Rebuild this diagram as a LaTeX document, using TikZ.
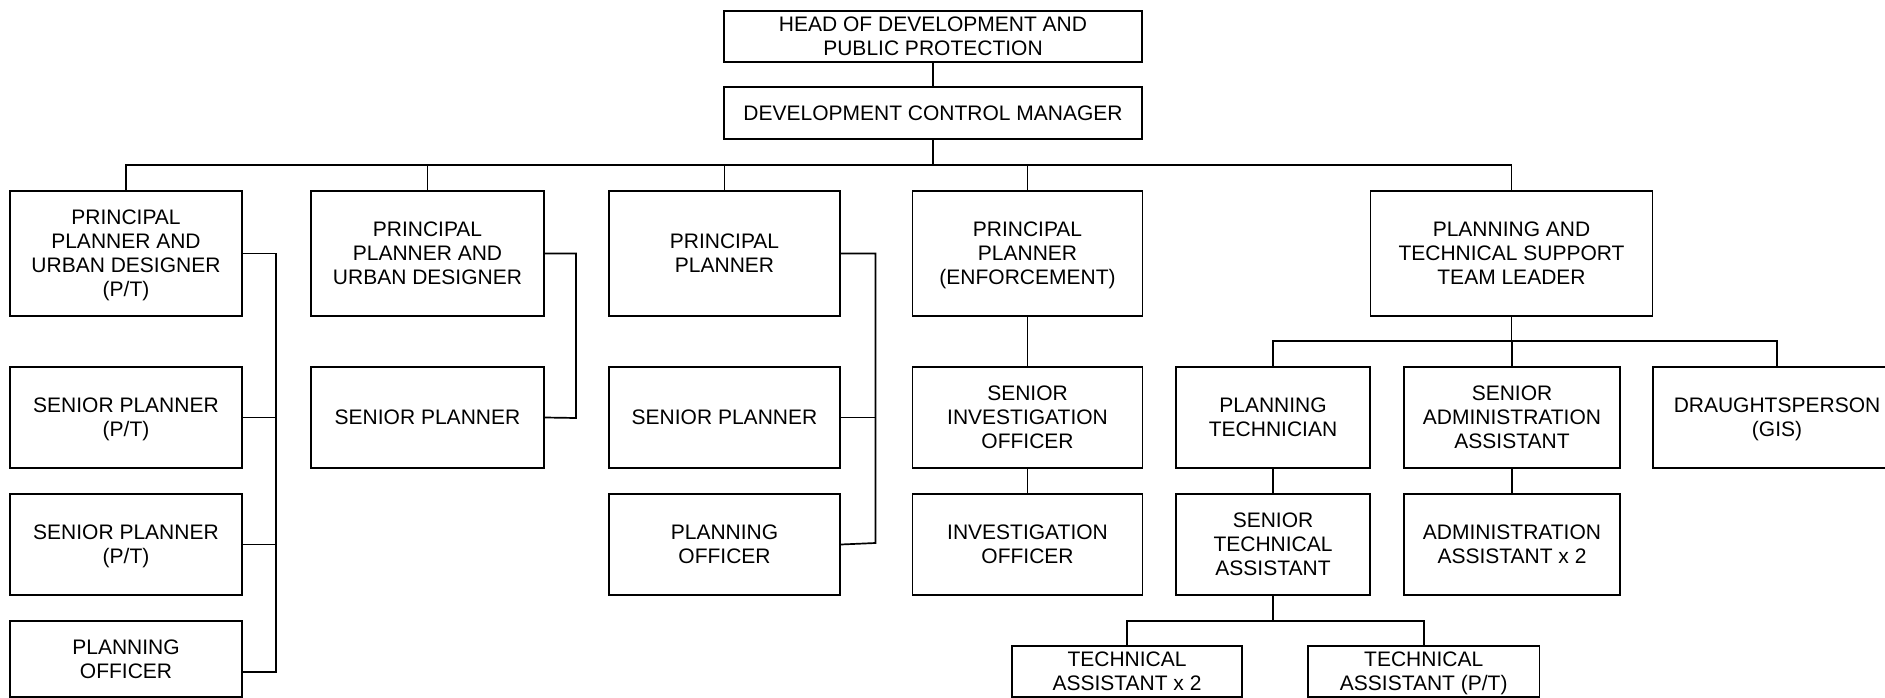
\documentclass[tikz,border=0pt]{standalone}
\usepackage{fontspec}
\setmainfont{Liberation Sans}
\usetikzlibrary{calc}
\tikzset{
  box/.style={draw, line width=1.9pt, rectangle, align=center, inner sep=0pt,
    text depth=0pt, font=\fontsize{21}{24}\selectfont},
  link/.style={line width=1.7pt}
}
\begin{document}
\begin{tikzpicture}[x=1pt,y=-1pt]
\useasboundingbox (0,0) rectangle (1885,698);
\clip (0,0) rectangle (1885,698);
% top
\node[box, minimum width=418pt, minimum height=51pt] (head) at (933,36.5) {HEAD OF DEVELOPMENT AND\\PUBLIC PROTECTION};
\node[box, minimum width=418pt, minimum height=52pt] (dcm) at (933,113) {DEVELOPMENT CONTROL MANAGER};
% row 1
\node[box, minimum width=232pt, minimum height=125pt] (ppa) at (126,253.5) {PRINCIPAL\\PLANNER AND\\URBAN DESIGNER\\(P/T)};
\node[box, minimum width=233pt, minimum height=125pt] (ppb) at (427.5,253.5) {PRINCIPAL\\PLANNER AND\\URBAN DESIGNER};
\node[box, minimum width=231pt, minimum height=125pt] (ppc) at (724.5,253.5) {PRINCIPAL\\PLANNER};
\node[box, minimum width=230pt, minimum height=125pt] (ppd) at (1027.5,253.5) {PRINCIPAL\\PLANNER\\(ENFORCEMENT)};
\node[box, minimum width=282pt, minimum height=125pt] (pts) at (1511.5,253.5) {PLANNING AND\\TECHNICAL SUPPORT\\TEAM LEADER};
% row 2
\node[box, minimum width=232pt, minimum height=101pt] (spa1) at (126,417.5) {SENIOR PLANNER\\(P/T)};
\node[box, minimum width=233pt, minimum height=101pt] (spb) at (427.5,417.5) {SENIOR PLANNER};
\node[box, minimum width=231pt, minimum height=101pt] (spc) at (724.5,417.5) {SENIOR PLANNER};
\node[box, minimum width=230pt, minimum height=101pt] (sio) at (1027.5,417.5) {SENIOR\\INVESTIGATION\\OFFICER};
\node[box, minimum width=194.5pt, minimum height=101pt] (ptech) at (1273,417.5) {PLANNING\\TECHNICIAN};
\node[box, minimum width=216.5pt, minimum height=101pt] (saa) at (1512,417.5) {SENIOR\\ADMINISTRATION\\ASSISTANT};
\node[box, minimum width=248pt, minimum height=101pt] (dr) at (1777,417.5) {DRAUGHTSPERSON\\(GIS)};
% row 3
\node[box, minimum width=232pt, minimum height=101pt] (spa2) at (126,544.5) {SENIOR PLANNER\\(P/T)};
\node[box, minimum width=231pt, minimum height=101pt] (poc) at (724.5,544.5) {PLANNING\\OFFICER};
\node[box, minimum width=230pt, minimum height=101pt] (io) at (1027.5,544.5) {INVESTIGATION\\OFFICER};
\node[box, minimum width=194.5pt, minimum height=101pt] (sta) at (1273,544.5) {SENIOR\\TECHNICAL\\ASSISTANT};
\node[box, minimum width=216.5pt, minimum height=101pt] (aa) at (1512,544.5) {ADMINISTRATION\\ASSISTANT x 2};
% row 4
\node[box, minimum width=232pt, minimum height=76pt] (poa) at (126,659) {PLANNING\\OFFICER};
\node[box, minimum width=230pt, minimum height=51pt] (ta2) at (1127,671.5) {TECHNICAL\\ASSISTANT x 2};
\node[box, minimum width=231.5pt, minimum height=51pt] (tapt) at (1423.7,671.5) {TECHNICAL\\ASSISTANT (P/T)};
% connectors
\coordinate (bus1) at (933,165);
\coordinate (bus2) at (1512,341);
\coordinate (bus3) at (1273,621);
\coordinate (sideA) at (276,672);
\coordinate (sideB) at (576,418);
\coordinate (sideC) at (875.5,543);
\draw[link] (head.south) -- (dcm.north);
\draw[link] (dcm.south) -- (bus1);
\draw[link] (ppa.north) -- (ppa.north |- bus1) -- (pts.north |- bus1) -- (pts.north);
\draw[link] (ppb.north) -- (ppb.north |- bus1);
\draw[link] (ppc.north) -- (ppc.north |- bus1);
\draw[link] (ppd.north) -- (ppd.north |- bus1);
% column A
\draw[link] (ppa.east) -| (sideA) -- (sideA -| poa.east);
\draw[link] (spa1.east) -- (spa1.east -| sideA);
\draw[link] (spa2.east) -- (spa2.east -| sideA);
% column B
\draw[link] (ppb.east) -| (sideB) -- (spb.east);
% column C
\draw[link] (ppc.east) -| (sideC) -- (poc.east);
\draw[link] (spc.east) -- (spc.east -| sideC);
% column D
\draw[link] (ppd.south) -- (sio.north);
\draw[link] (sio.south) -- (io.north);
% column E
\draw[link] (pts.south) -- (pts.south |- bus2);
\draw[link] (ptech.north) -- (ptech.north |- bus2) -- (dr.north |- bus2) -- (dr.north);
\draw[link] (saa.north) -- (saa.north |- bus2);
\draw[link] (ptech.south) -- (sta.north);
\draw[link] (saa.south) -- (aa.north);
\draw[link] (sta.south) -- (bus3);
\draw[link] (ta2.north) -- (ta2.north |- bus3) -- (tapt.north |- bus3) -- (tapt.north);
\end{tikzpicture}
\end{document}
